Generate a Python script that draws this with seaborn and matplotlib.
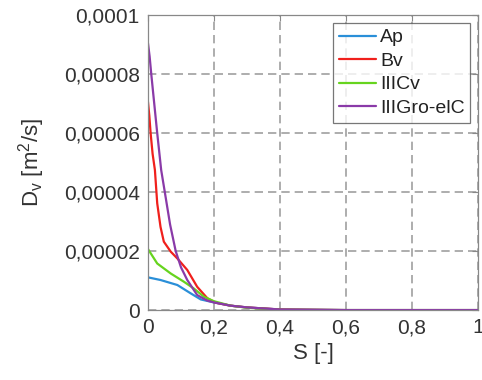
"""Dv vs saturation S for four soil horizons."""

import matplotlib

matplotlib.use("Agg")

import matplotlib.pyplot as plt
import pandas as pd
import seaborn as sns
from matplotlib.ticker import FuncFormatter

# values (S [-], Dv [m2/s])
s_ap = [0.0, 0.038, 0.089, 0.129, 0.16, 0.2, 0.25, 0.3, 0.4, 0.6, 1.0]
dv_ap = [1.11e-5, 1.02e-5, 0.85e-5, 0.57e-5, 0.36e-5, 0.26e-5, 0.15e-5, 0.09e-5, 0.02e-5, 0.0, 0.0]

s_bv = [0.0, 0.004, 0.008, 0.014, 0.021, 0.028, 0.038, 0.048, 0.069, 0.089, 0.119, 0.149,
        0.18, 0.205, 0.25, 0.3, 0.4, 0.6, 1.0]
dv_bv = [7.06e-5, 6.6e-5, 6.0e-5, 5.3e-5, 4.75e-5, 3.62e-5, 2.82e-5, 2.32e-5, 1.98e-5, 1.75e-5,
         1.36e-5, 0.79e-5, 0.4e-5, 0.25e-5, 0.15e-5, 0.09e-5, 0.02e-5, 0.0, 0.0]

s_iiicv = [0.0, 0.028, 0.069, 0.109, 0.139, 0.17, 0.2, 0.25, 0.3, 0.4, 0.6, 1.0]
dv_iiicv = [2.07e-5, 1.58e-5, 1.24e-5, 0.96e-5, 0.73e-5, 0.45e-5, 0.3e-5, 0.15e-5, 0.08e-5,
            0.01e-5, 0.0, 0.0]

s_iiigro = [0.0, 0.005, 0.01, 0.019, 0.028, 0.04, 0.051, 0.067, 0.084, 0.1, 0.119, 0.149,
            0.18, 0.2, 0.25, 0.3, 0.4, 0.6, 1.0]
dv_iiigro = [9.05e-5, 8.6e-5, 8.0e-5, 7.0e-5, 6.0e-5, 4.75e-5, 4.0e-5, 2.9e-5, 2.0e-5, 1.45e-5,
             1.02e-5, 0.51e-5, 0.32e-5, 0.26e-5, 0.15e-5, 0.09e-5, 0.02e-5, 0.0, 0.0]

horizons = ["Ap", "Bv", "IIICv", "IIIGro-elC"]
colors = ["#2a8fd8", "#f0201c", "#66d41e", "#8a3aa8"]

frames = []
for name, s, dv in zip(horizons, [s_ap, s_bv, s_iiicv, s_iiigro],
                       [dv_ap, dv_bv, dv_iiicv, dv_iiigro]):
    frames.append(pd.DataFrame({"S": s, "Dv": dv, "horizon": name}))
df = pd.concat(frames, ignore_index=True)

sns.set_style("white")
plt.rcParams["font.family"] = ["Liberation Sans", "DejaVu Sans"]

fig = plt.figure(figsize=(4.82, 3.80), dpi=100)
ax = fig.add_axes([0.307, 0.184, 0.685, 0.776])

sns.lineplot(data=df, x="S", y="Dv", hue="horizon", hue_order=horizons,
             palette=colors, linewidth=1.6, ax=ax, sort=False)

ax.set_xlim(0, 1)
ax.set_ylim(0, 1e-4)
ax.set_xticks([0, 0.2, 0.4, 0.6, 0.8, 1.0])
ax.set_yticks([0, 2e-5, 4e-5, 6e-5, 8e-5, 1e-4])


def comma_fmt(v, pos):
    if abs(v) < 1e-12:
        return "0"
    txt = f"{v:.5f}".rstrip("0").rstrip(".")
    return txt.replace(".", ",")


ax.xaxis.set_major_formatter(FuncFormatter(comma_fmt))
ax.yaxis.set_major_formatter(FuncFormatter(comma_fmt))

ax.grid(True, color="#a0a0a0", linestyle=(0, (5, 3)), linewidth=1.2)
ax.set_axisbelow(True)
for sp in ax.spines.values():
    sp.set_color("#888888")
    sp.set_linewidth(0.9)
ax.tick_params(direction="in", length=4, color="#888888", labelsize=15,
               labelcolor="#333333", top=True, right=True, pad=6)

ax.set_xlabel("S [-]", fontsize=16, color="#333333", labelpad=4)
ax.set_ylabel(r"D$_\mathregular{v}$ [m$^\mathregular{2}$/s]", fontsize=16,
              color="#333333", labelpad=12)

leg = ax.legend(loc="upper right", fontsize=14, frameon=True, fancybox=False,
                edgecolor="#555555", handlelength=1.9, handletextpad=0.2,
                borderaxespad=0.4, labelspacing=0.3, borderpad=0.3)
leg.get_frame().set_linewidth(0.9)
for t in leg.get_texts():
    t.set_color("#222222")

fig.savefig("out.png", dpi=100)
